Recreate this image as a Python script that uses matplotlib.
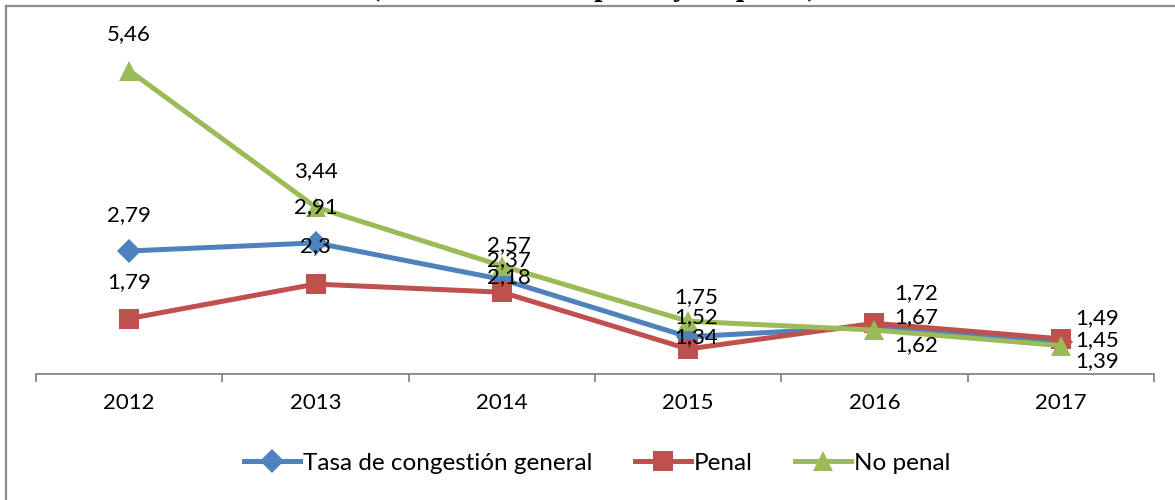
import matplotlib
matplotlib.use("Agg")
import matplotlib.pyplot as plt
from matplotlib.lines import Line2D

# data
years = ["2012", "2013", "2014", "2015", "2016", "2017"]
general = [2.79, 2.91, 2.37, 1.52, 1.67, 1.45]
penal = [1.79, 2.30, 2.18, 1.34, 1.72, 1.49]
no_penal = [5.46, 3.44, 2.57, 1.75, 1.62, 1.39]
names = ["Tasa de congestión general", "Penal", "No penal"]

# label offsets in pixels (Excel shoved the labels around to avoid overlap)
off_general = [(0, 36), (0, 36), (7, 19), (8, 20), (42, 10), (36, 1)]
off_penal = [(0, 36), (0, 38), (7, 15), (8, 12), (42, 30), (36, 21)]
off_no_penal = [(0, 36), (0, 36), (7, 21), (8, 24), (42, -15), (36, -15)]

colors = ["#4F81BD", "#C0504D", "#9BBB59"]
markers = ["D", "s", "^"]
msizes = [12, 14, 15]
font = "Lato"
axis_grey = "#868686"

fig = plt.figure(figsize=(11.75, 5), dpi=100)
ax = fig.add_axes([36 / 1175, 1 - 374 / 500, (1154 - 36) / 1175, (374 - 34) / 500])

x = list(range(len(years)))
series = [general, penal, no_penal]
offsets = [off_general, off_penal, off_no_penal]
for vals, c, m, ms, name in zip(series, colors, markers, msizes, names):
    ax.plot(x, vals, color=c, lw=3.6, marker=m, markersize=ms,
            markeredgewidth=0, label=name, zorder=3)

for vals, offs in zip(series, offsets):
    for xi, v, (dx, dy) in zip(x, vals, offs):
        ax.annotate(f"{v:.2f}".rstrip("0").replace(".", ","), (xi, v),
                    xytext=(dx, dy), textcoords="offset pixels",
                    ha="center", va="center", fontsize=16, family=font,
                    color="black", zorder=5)

ax.set_xlim(-0.5, len(years) - 0.5)
ax.set_ylim(0.97, 6.0)
ax.set_yticks([])
for s in ["top", "right", "left"]:
    ax.spines[s].set_visible(False)
ax.spines["bottom"].set_color(axis_grey)
ax.spines["bottom"].set_linewidth(1.3)

# ticks sit between categories, labels in the middle
ax.set_xticks([i - 0.5 for i in range(len(years) + 1)])
ax.set_xticklabels([])
ax.set_xticks(x, minor=True)
ax.set_xticklabels(years, minor=True, fontsize=16, family=font)
ax.tick_params(axis="x", which="major", direction="out", length=5.5,
               width=1.3, color=axis_grey)
ax.tick_params(axis="x", which="minor", length=0, pad=14)
ax.patch.set_visible(False)

fig.legend(loc="center", bbox_to_anchor=(0.5 + 10 / 1175, 1 - 463 / 500), ncol=3,
           frameon=False, prop={"family": font, "size": 17.5},
           handlelength=2.3, handletextpad=0.12, columnspacing=1.75)

# outer frame: only top and left edges are visible in the crop
fig.add_artist(Line2D([6 / 1175, 1], [1 - 6 / 500, 1 - 6 / 500],
                      transform=fig.transFigure, color="#8c8c8c", lw=1.6))
fig.add_artist(Line2D([6 / 1175, 6 / 1175], [0, 1 - 6 / 500],
                      transform=fig.transFigure, color="#8c8c8c", lw=1.6))

# title is cut off above the picture, only descenders peek through
fig.text(594 / 1175, 1 + 5 / 500, "(2012-2017, total penal y no penal)",
         ha="center", va="baseline", fontsize=22, fontweight="bold",
         family="Liberation Serif")

fig.savefig("out.png", dpi=100)
